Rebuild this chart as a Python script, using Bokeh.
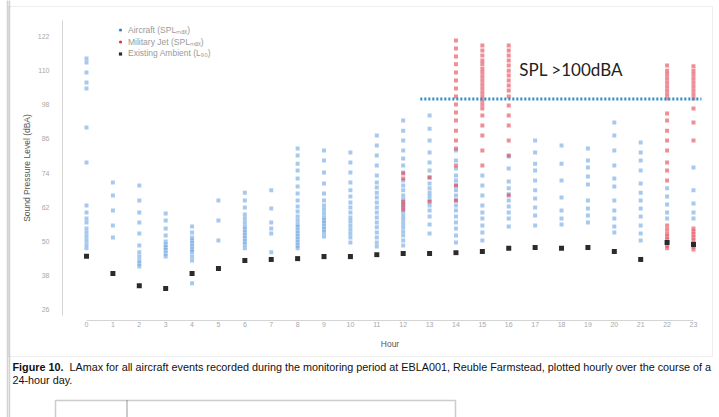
from bokeh.plotting import figure
from bokeh.models import Range1d, Label, Legend, LegendItem, BoxAnnotation, FixedTicker
from bokeh.embed import file_html
from bokeh.resources import INLINE

# ---- data: hourly LAmax of recorded events and hourly ambient L90 (dBA) ----
hours = list(range(24))
y_ticks = [26, 38, 50, 62, 74, 86, 98, 110, 122]

ambient_l90 = [44.7, 38.7, 34.4, 33.4, 38.7, 40.4, 43.2, 43.6, 43.9, 44.6, 44.6, 45.3,
               45.7, 45.7, 46.0, 46.4, 47.5, 47.8, 47.5, 47.8, 46.4, 43.6, 49.6, 48.9]

aircraft_spl = [
    [114.3, 112.9, 109.3, 105.8, 103.7, 90.0, 77.7, 62.6, 60.1, 58.0, 56.6, 54.5, 53.1, 51.7, 50.3, 48.9, 47.5],
    [70.7, 66.1, 60.8, 55.5, 51.3],
    [69.6, 64.3, 60.1, 56.6, 52.7, 48.5, 46.1, 44.6, 43.2, 42.2, 41.1],
    [59.8, 57.3, 54.5, 52.0, 49.9, 48.8, 47.8, 46.8, 45.7, 44.6],
    [55.2, 53.1, 51.3, 50.3, 49.2, 48.2, 47.1, 46.1, 44.6, 43.2, 35.2],
    [64.3, 57.3, 50.3],
    [67.1, 64.3, 61.9, 59.4, 58.0, 56.6, 55.2, 54.1, 53.1, 52.0, 51.0, 49.9, 48.9, 47.5],
    [67.9, 61.5, 56.6, 54.5, 52.7, 46.1],
    [82.6, 80.2, 77.3, 74.9, 72.1, 69.3, 66.8, 64.3, 62.2, 60.5, 58.7, 57.3, 55.9, 54.9, 53.8, 52.7, 51.7, 50.6, 49.6, 48.5, 47.5],
    [81.9, 78.4, 74.2, 70.3, 66.8, 64.3, 62.6, 61.2, 59.8, 58.4, 57.3, 56.3, 55.2, 54.1, 53.1, 51.7],
    [81.2, 77.7, 74.2, 70.7, 67.9, 65.7, 63.6, 61.9, 60.1, 58.4, 57.0, 55.5, 54.1, 52.7, 51.3, 49.6],
    [87.2, 83.7, 80.2, 76.6, 73.1, 70.7, 68.9, 67.1, 65.4, 63.6, 61.9, 60.1, 58.4, 56.6, 54.9, 53.1, 51.3, 49.6, 48.2],
    [92.5, 88.9, 85.4, 81.9, 79.1, 76.6, 74.2, 71.4, 69.6, 67.9, 66.1, 64.7, 63.3, 61.9, 60.5, 59.1, 57.7, 56.3, 54.9, 53.4, 52.0, 50.3, 48.5],
    [94.2, 89.6, 85.4, 81.2, 77.7, 74.9, 72.4, 70.3, 68.6, 67.1, 65.7, 64.3, 62.6, 60.8, 58.7, 55.9, 52.7],
    [81.9, 78.4, 75.6, 73.1, 71.4, 69.6, 67.9, 66.1, 64.3, 62.6, 60.8, 58.7, 56.6, 54.5, 52.0, 49.6],
    [73.1, 69.6, 66.1, 62.6, 60.1, 58.0, 55.5, 53.1, 50.3],
    [79.8, 75.6, 71.0, 68.6, 66.5, 64.3, 62.2, 60.1, 58.0, 55.2],
    [85.4, 81.2, 77.3, 74.9, 71.4, 67.9, 65.0, 61.9, 59.1, 55.5],
    [83.7, 77.3, 71.4, 65.4, 60.8, 58.0, 55.9],
    [82.6, 78.4, 75.9, 72.8, 70.0, 64.3, 61.5, 59.1, 56.6],
    [91.8, 87.2, 81.9, 76.6, 72.1, 69.3, 64.3, 60.8, 58.0, 55.2, 53.1],
    [84.7, 81.2, 78.4, 74.9, 70.3, 67.1, 64.3, 61.5, 58.7, 55.5, 52.7, 50.3],
    [68.6, 65.7, 62.9, 60.1, 58.0],
    [75.9, 67.9, 63.3, 60.1, 58.0],
]

military_jet_spl = [
    [], [], [], [], [], [], [], [], [], [], [], [],
    [73.8, 72.1, 63.9, 62.6, 61.2],
    [72.4, 63.9],
    [120.6, 117.8, 115.0, 112.2, 109.3, 106.5, 103.7, 100.9, 98.1, 95.3, 92.5, 88.9, 85.4, 82.6, 76.6, 69.6, 64.3],
    [118.8, 117.1, 115.3, 113.6, 112.2, 110.7, 109.3, 107.9, 106.5, 105.1, 103.7, 102.3, 100.9, 99.5, 98.1, 96.7, 94.2, 90.7, 87.2, 81.9, 76.6],
    [118.8, 117.1, 115.3, 113.6, 111.8, 110.0, 108.3, 106.5, 104.8, 103.0, 100.9, 97.7, 94.2, 90.7, 85.4, 80.2, 66.1],
    [], [], [], [], [],
    [111.8, 110.0, 108.6, 107.2, 105.8, 104.4, 103.0, 101.6, 100.2, 94.9, 92.5, 88.9, 85.4, 81.9, 77.7, 74.9, 71.4,
     55.5, 54.1, 52.7, 51.7, 50.6, 49.6, 48.5, 47.5],
    [111.5, 110.0, 108.6, 107.2, 105.8, 104.4, 103.0, 101.6, 100.2, 96.7, 91.8, 85.4,
     54.5, 53.4, 52.4, 51.3, 50.3, 49.2, 48.2, 47.1],
]

threshold_dba = 100
threshold_hours = (12.65, 23.3)

# ---- styling ----
BLUE = "#2f7fd6"
RED = "#e3323f"
DARK = "#2b2b2b"
TICK_GREY = "#a8a8a8"
FONT = "Liberation Sans"
W, H = 719, 417


def flatten(groups):
    xs, ys = [], []
    for h, vals in zip(hours, groups):
        xs.extend([h] * len(vals))
        ys.extend(vals)
    return xs, ys


ac_x, ac_y = flatten(aircraft_spl)
mj_x, mj_y = flatten(military_jet_spl)

# The plot frame spans the whole page; axes sit at fixed data locations inside it,
# leaving room around them for the report page elements (box, caption, table).
p = figure(width=W, height=H, output_backend="svg", toolbar_location=None,
           x_range=Range1d(-3.259, 23.986), y_range=Range1d(-11.97, 134.66),
           min_border=0, min_border_left=0, min_border_right=0,
           min_border_top=0, min_border_bottom=0)
p.background_fill_color = "white"
p.border_fill_color = "white"
p.outline_line_color = None
p.grid.visible = False

p.xaxis.fixed_location = 22.14
p.yaxis.fixed_location = -0.909
p.xaxis.ticker = FixedTicker(ticks=hours)
p.xaxis.bounds = (0, 23)
p.yaxis.ticker = FixedTicker(ticks=y_ticks)
p.yaxis.bounds = (23.9, 127.6)
for ax in (p.xaxis[0], p.yaxis[0]):
    ax.axis_line_color = "#d4d4d4"
    ax.major_tick_line_color = None
    ax.major_tick_out = 0
    ax.major_tick_in = 0
    ax.minor_tick_line_color = None
    ax.minor_tick_out = 0
    ax.major_label_text_color = TICK_GREY
    ax.major_label_text_font = FONT
    ax.major_label_text_font_size = "7px"
    ax.axis_label_text_font = FONT
    ax.axis_label_text_font_style = "normal"
    ax.axis_label_text_font_size = "8.5px"
    ax.axis_label_text_color = "#555555"
p.xaxis.axis_label = "Hour"
p.xaxis.major_label_standoff = 2
p.xaxis.axis_label_standoff = 8
p.yaxis.axis_label = "Sound Pressure Level (dBA)"
p.yaxis.major_label_standoff = 13
p.yaxis.axis_label_standoff = 3

# events
p.scatter(ac_x, ac_y, marker="square", size=4, fill_color=BLUE, line_color=None, fill_alpha=0.42)
p.scatter(mj_x, mj_y, marker="square", size=4, fill_color=RED, line_color=None, fill_alpha=0.55)
p.scatter(hours, ambient_l90, marker="square", size=5, fill_color=DARK, line_color=None)

# legend swatches (full colour, kept off-page)
k_ac = p.scatter([-50], [-50], marker="circle", size=5, fill_color=BLUE, line_color=None)
k_mj = p.scatter([-50], [-50], marker="circle", size=5, fill_color=RED, line_color=None)
k_amb = p.scatter([-50], [-50], marker="square", size=5, fill_color=DARK, line_color=None)
legend = Legend(items=[LegendItem(label="Aircraft (SPLₘₐₓ)", renderers=[k_ac]),
                       LegendItem(label="Military Jet (SPLₘₐₓ)", renderers=[k_mj]),
                       LegendItem(label="Existing Ambient (L₉₀)", renderers=[k_amb])],
                location=(116, 359), orientation="vertical",
                glyph_width=8, glyph_height=9, label_height=9, label_width=10,
                label_standoff=4, spacing=1, padding=0, margin=0,
                border_line_color=None, background_fill_alpha=0,
                label_text_font=FONT, label_text_font_size="8.5px", label_text_color="#9a9a9a")
p.add_layout(legend)

# 100 dBA threshold marker
p.line(list(threshold_hours), [threshold_dba, threshold_dba], line_color="#2a8fc7",
       line_width=3, line_dash="2 2")
p.add_layout(Label(x=16.4, y=threshold_dba + 10.5, text="SPL >100dBA", text_font="Lato",
                   text_font_size="17px", text_color="#222222", text_baseline="middle"))


# report page elements in screen pixels (x from left, y from bottom)
def box(l, r, t, b, color, width):
    p.add_layout(BoxAnnotation(left=l, right=r, top=H - t, bottom=H - b,
                               left_units="screen", right_units="screen",
                               top_units="screen", bottom_units="screen",
                               fill_alpha=0, line_color=color, line_width=width))


box(8, 712, 6, 356, "#c8c8c8", 1)
box(7, 9, -5, 430, "#6a6a6a", 1.5)
box(55, 455, 400, 440, "#555555", 1.5)
box(126, 127, 400, 440, "#555555", 1)


def caption(x, y, text, bold=False):
    p.add_layout(Label(x=x, y=H - y, x_units="screen", y_units="screen", text=text,
                       text_font=FONT, text_font_style="bold" if bold else "normal",
                       text_font_size="10.8px", text_color="#111111", text_baseline="middle"))


caption(12, 366, "Figure 10.", bold=True)
caption(69, 366, "LAmax for all aircraft events recorded during the monitoring period at EBLA001, "
                 "Reuble Farmstead, plotted hourly over the course of a")
caption(12, 379, "24-hour day.")

open("out.html", "w").write(file_html(p, INLINE))
